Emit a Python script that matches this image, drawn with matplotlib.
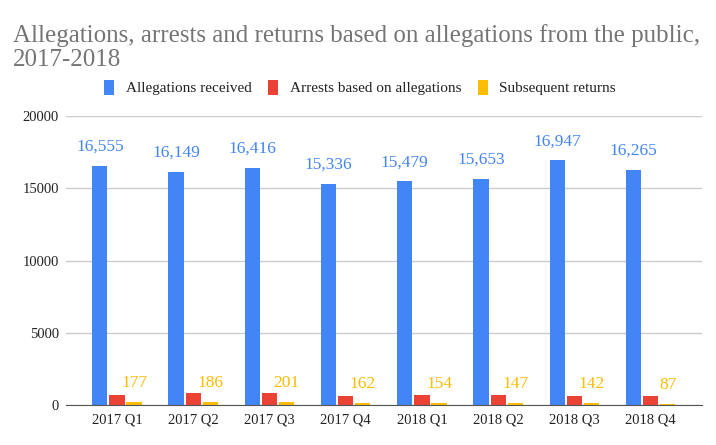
import numpy as np
import matplotlib.pyplot as plt

quarters = ["2017 Q1", "2017 Q2", "2017 Q3", "2017 Q4",
            "2018 Q1", "2018 Q2", "2018 Q3", "2018 Q4"]
allegations = [16555, 16149, 16416, 15336, 15479, 15653, 16947, 16265]
arrests = [690, 840, 840, 620, 690, 690, 620, 620]
returns = [177, 186, 201, 162, 154, 147, 142, 87]

BLUE = "#4285F4"
RED = "#EA4335"
YELLOW = "#FBBC04"
SERIF = ["Liberation Serif", "DejaVu Serif"]

fig = plt.figure(figsize=(7.16, 4.45), dpi=100)
ax = fig.add_axes([0.092, 0.0899, 0.888, 0.649])

x = np.arange(len(quarters))
w = 0.2
step = 0.225
series = [(allegations, BLUE, "Allegations received"),
          (arrests, RED, "Arrests based on allegations"),
          (returns, YELLOW, "Subsequent returns")]
for i, (vals, col, lab) in enumerate(series):
    ax.bar(x + (i - 1) * step, vals, width=w, color=col, label=lab, zorder=3)

for xi, v in zip(x, allegations):
    ax.annotate(f"{v:,}", (xi - step, v), xytext=(0, 8), textcoords="offset points",
                ha="center", va="bottom", color=BLUE, fontsize=12.5, family=SERIF)
for xi, v in zip(x, returns):
    ax.annotate(f"{v:,}", (xi + step, v), xytext=(0, 8), textcoords="offset points",
                ha="center", va="bottom", color=YELLOW, fontsize=12.5, family=SERIF)

ax.set_xlim(-0.67, 7.67)
ax.set_ylim(0, 20000)
ax.set_yticks([0, 5000, 10000, 15000, 20000])
ax.set_xticks(x)
ax.set_xticklabels(quarters)
ax.grid(axis="y", color="#cccccc", linewidth=1, zorder=0)
for s in ["top", "right", "left"]:
    ax.spines[s].set_visible(False)
ax.spines["bottom"].set_color("#555555")
ax.spines["bottom"].set_zorder(4)
ax.tick_params(length=0, labelsize=10.5, colors="#222222", pad=6)
ax.tick_params(axis="y", pad=5)
for t in ax.get_xticklabels() + ax.get_yticklabels():
    t.set_family(SERIF)

fig.text(0.018, 0.945, "Allegations, arrests and returns based on allegations from the public,\n2017-2018",
         ha="left", va="top", fontsize=18, color="#757575", family=SERIF, linespacing=1.1)

leg = fig.legend(loc="center", bbox_to_anchor=(0.503, 0.803), ncol=3, frameon=False,
                 prop={"family": SERIF, "size": 11}, handlelength=0.65, handleheight=1.1,
                 handletextpad=0.75, columnspacing=1.1)
for t in leg.get_texts():
    t.set_color("#222222")

fig.savefig("out.png", dpi=100)
